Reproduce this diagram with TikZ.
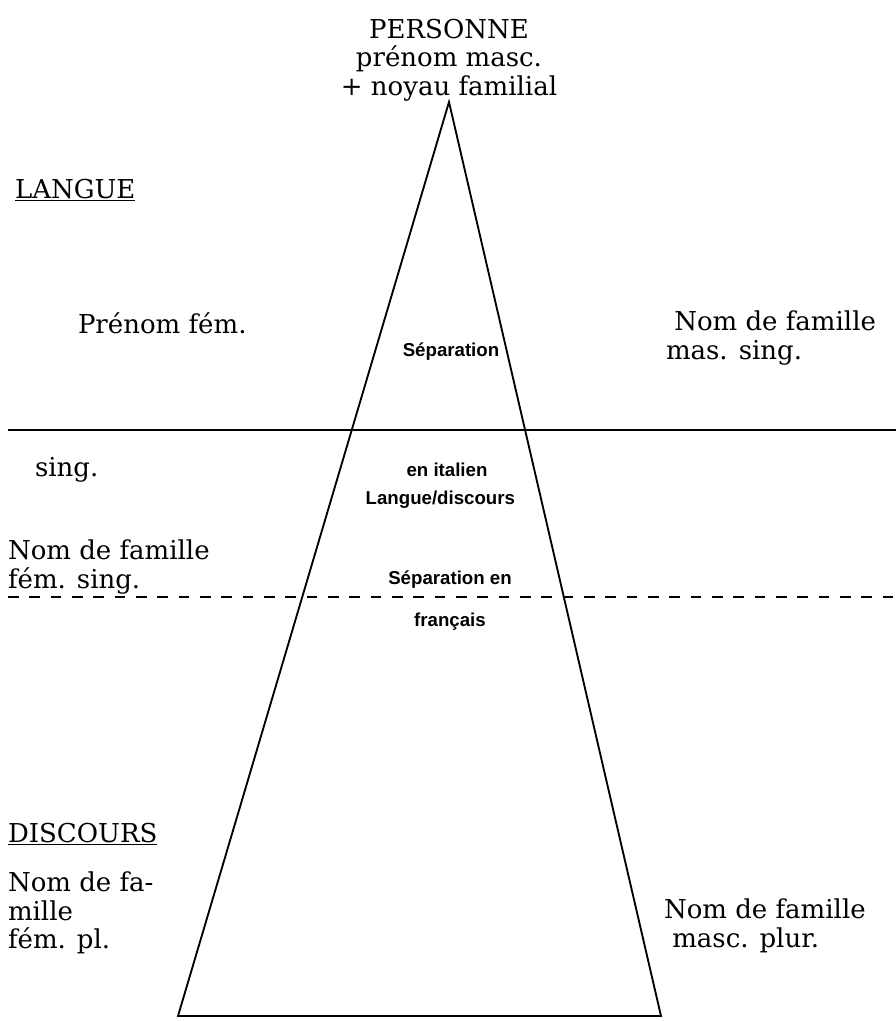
\documentclass[tikz,border=0pt]{standalone}
\usepackage{fontspec}
\setmainfont{DejaVu Serif}
\newfontfamily\innerfont{Liberation Sans}
\usetikzlibrary{positioning, calc}

\begin{document}
\begin{tikzpicture}
  [
    x=0.75pt, y=-0.75pt,
    every node/.style={font=\fontsize{19.5}{21.5}\selectfont},
    align=left
  ]
    \tikzset{
      base/.style = {inner sep=0pt, outer sep=0pt},
      sidetext/.style = {base, anchor=west, align=left},
      toptext/.style = {base, align=center},
      midtext/.style = {base, font=\innerfont\bfseries\fontsize{14}{17}\selectfont},
      frame/.style = {line width=1.4pt, line join=miter},
      levelline/.style = {line width=1.2pt},
      levelcut/.style = {levelline, dash pattern=on 8pt off 8pt},
    }
    % bounding box of the page
    \useasboundingbox (0,0) rectangle (896,1021);

    \node (personne) [toptext] at (449,60) {PERSONNE\\prénom masc.\\+ noyau familial};

    % the triangle
    \coordinate (apex) at (449,102);
    \coordinate (baseleft) at (178,1016);
    \coordinate (baseright) at (661,1016);
    \draw[frame] (baseleft) -- (apex) -- (baseright) -- cycle;

    % langue / discours levels
    \coordinate (solidleft) at (8,430);
    \coordinate (solidright) at (896,430);
    \coordinate (dashleft) at (8,597);
    \coordinate (dashright) at (896,597);
    \draw[levelline] (solidleft) -- (solidright);
    \draw[levelcut] (dashleft) -- (dashright);

    \node (langue) [sidetext] at (15,190) {\underline{LANGUE}};
    \node (prenomfem) [sidetext] at (78,323) {Prénom fém.};
    \node (nommassing) [sidetext] at (666,338) {\ Nom de famille\\mas. sing.};
    \node (sing) [sidetext] at (35,470) {sing.};
    \node (nomfemsing) [sidetext] at (8,567) {Nom de famille\\fém. sing.};
    \node (discours) [sidetext] at (8,834) {\underline{DISCOURS}};
    \node (nomfempl) [sidetext] at (8,913) {Nom de fa-\\mille\\fém. pl.};
    \node (nommascpl) [sidetext] at (664,926) {Nom de famille\\\ masc. plur.};

    % texts inside the triangle
    \node (sepa) [midtext] at (451,352) {Séparation};
    \node (italien) [midtext] at (447,470) {en italien};
    \node (langdisc) [midtext, below=22.5pt of italien.center, anchor=center, xshift=-5pt] {Langue/discours};
    \node (sepb) [midtext] at (450,580) {Séparation en};
    \node (francais) [midtext] at (450,622) {français};
\end{tikzpicture}
\end{document}
